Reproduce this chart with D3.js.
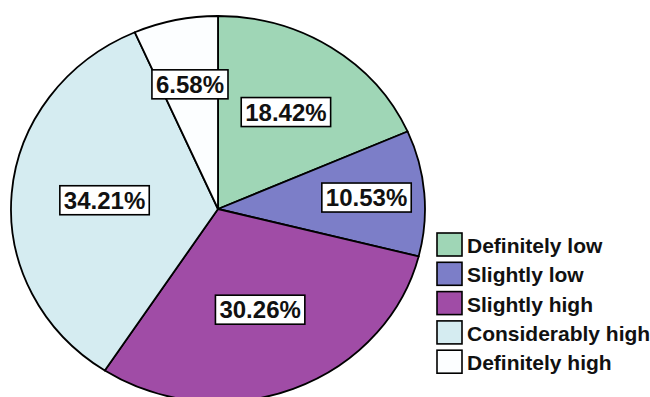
<!DOCTYPE html>
<html>
<head>
<meta charset="utf-8">
<script src="https://cdn.jsdelivr.net/npm/d3@7"></script>
<style>
  body { margin: 0; background: #fff; }
  text { font-family: "Liberation Sans", Arial, sans-serif; font-weight: bold; }
</style>
</head>
<body>
<div id="container"></div>
<script>
/* DATA */
const categories = ["Definitely low", "Slightly low", "Slightly high", "Considerably high", "Definitely high"];
const percents = [18.42, 10.53, 30.26, 34.21, 6.58];
const colors = ["#9fd6b6", "#7c7ec8", "#a04ca6", "#d5ecf1", "#fcfeff"];

/* CONSTANTS */
const width = 650, height = 397;
const cx = 218, cy = 209, rx = 207, ry = 193;
// how far out each label sits, as a share of the radius
const labelRadius = [0.6, 0.72, 0.56, 0.55, 0.66];

const svg = d3.select("#container")
  .append("svg")
  .attr("width", width)
  .attr("height", height);

const pie = d3.pie().sort(null).value(d => d);
const arcs = pie(percents);

const arc = d3.arc().innerRadius(0).outerRadius(rx);

// pie is slightly squashed, so draw it as a circle and scale y
const pieG = svg.append("g")
  .attr("transform", `translate(${cx},${cy}) scale(1,${ry / rx})`);

pieG.selectAll("path.slice")
  .data(arcs)
  .join("path")
  .attr("class", "slice")
  .attr("d", arc)
  .attr("fill", (d, i) => colors[i])
  .attr("stroke", "#000")
  .attr("stroke-width", 1.8)
  .attr("stroke-linejoin", "round")
  .attr("vector-effect", "non-scaling-stroke");

// labels
const labels = svg.append("g").attr("transform", `translate(${cx},${cy})`);
arcs.forEach((d, i) => {
  const a = (d.startAngle + d.endAngle) / 2;
  const x = Math.sin(a) * rx * labelRadius[i];
  const y = -Math.cos(a) * ry * labelRadius[i];
  const g = labels.append("g").attr("transform", `translate(${x},${y})`);
  const t = g.append("text")
    .attr("text-anchor", "middle")
    .attr("dy", "0.36em")
    .attr("font-size", 24)
    .attr("fill", "#111")
    .text(percents[i].toFixed(2) + "%");
  const bb = t.node().getBBox();
  g.insert("rect", "text")
    .attr("x", bb.x - 4)
    .attr("y", -14.5)
    .attr("width", bb.width + 8)
    .attr("height", 29)
    .attr("fill", "#fff")
    .attr("stroke", "#000")
    .attr("stroke-width", 1.6);
});

// legend
const legend = svg.append("g").attr("transform", "translate(437,233)");
const rows = legend.selectAll("g")
  .data(categories)
  .join("g")
  .attr("transform", (d, i) => `translate(0,${i * 29.3})`);

rows.append("rect")
  .attr("width", 25)
  .attr("height", 23)
  .attr("fill", (d, i) => colors[i])
  .attr("stroke", "#000")
  .attr("stroke-width", 1.6);

rows.append("text")
  .attr("x", 30)
  .attr("y", 20)
  .attr("font-size", 21)
  .attr("fill", "#111")
  .text(d => d);
</script>
</body>
</html>
